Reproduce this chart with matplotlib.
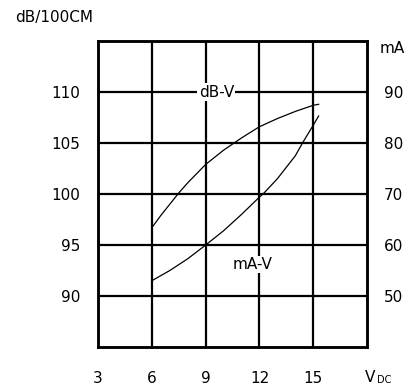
import numpy as np
import matplotlib
matplotlib.use("Agg")
import matplotlib.pyplot as plt

# dB-V curve (left axis, dB/100cm)
db_volts = [6, 6.5, 7, 7.5, 8, 9, 10, 10.5, 11, 12, 13, 14, 15, 15.3]
db_vals = [96.7, 97.9, 99.0, 100.1, 101.1, 102.9, 104.3, 104.9, 105.5, 106.6, 107.4, 108.1, 108.7, 108.8]

# mA-V curve (right axis, mA)
ma_volts = [6, 7, 8, 9, 10, 11, 12, 12.2, 13, 14, 14.4, 15, 15.3]
ma_vals = [53, 55, 57.3, 60, 62.8, 66, 69.4, 70, 73, 77.5, 80, 83.5, 85.3]

x_ticks = [3, 6, 9, 12, 15, 18]
x_labels = ["3", "6", "9", "12", "15", ""]
db_ticks = [90, 95, 100, 105, 110]
ma_ticks = [50, 60, 70, 80, 90]

fig = plt.figure(figsize=(4.19, 3.91), dpi=100)
ax = fig.add_axes([0.234, 0.1125, 0.642, 0.7825])
ax2 = ax.twinx()

ax.set_xlim(3, 18)
ax.set_ylim(85, 115)
ax2.set_ylim(40, 100)

# grid
for v in x_ticks[1:-1]:
    ax.axvline(v, color="black", lw=1.6, zorder=1)
for d in db_ticks:
    ax.axhline(d, color="black", lw=1.6, zorder=1)

ax.plot(db_volts, db_vals, color="black", lw=0.9, zorder=3)
ax2.plot(ma_volts, ma_vals, color="black", lw=0.9, zorder=3)

for a in (ax, ax2):
    for s in a.spines.values():
        s.set_linewidth(1.8)
    a.tick_params(length=0, labelsize=11)

ax.set_xticks(x_ticks)
ax.set_xticklabels(x_labels)
ax.tick_params(axis="x", pad=17)
ax.set_yticks(db_ticks)
ax.tick_params(axis="y", pad=13)
ax2.set_yticks(ma_ticks)
ax2.tick_params(axis="y", pad=12)

ax.text(9.6, 110, "dB-V", ha="center", va="center", fontsize=11,
        bbox=dict(facecolor="white", edgecolor="none", pad=1), zorder=4)
ax.text(11.6, 93.1, "mA-V", ha="center", va="center", fontsize=11,
        bbox=dict(facecolor="white", edgecolor="none", pad=1), zorder=4)

fig.text(15 / 419, 0.954, "dB/100CM", ha="left", va="center", fontsize=11)
fig.text(380 / 419, 0.877, "mA", ha="left", va="center", fontsize=11)
fig.text(365 / 419, 1 - 378 / 391, "V", ha="left", va="center", fontsize=11)
fig.text(377 / 419, 1 - 380 / 391, "DC", ha="left", va="center", fontsize=7)

fig.savefig("out.png", dpi=100)
